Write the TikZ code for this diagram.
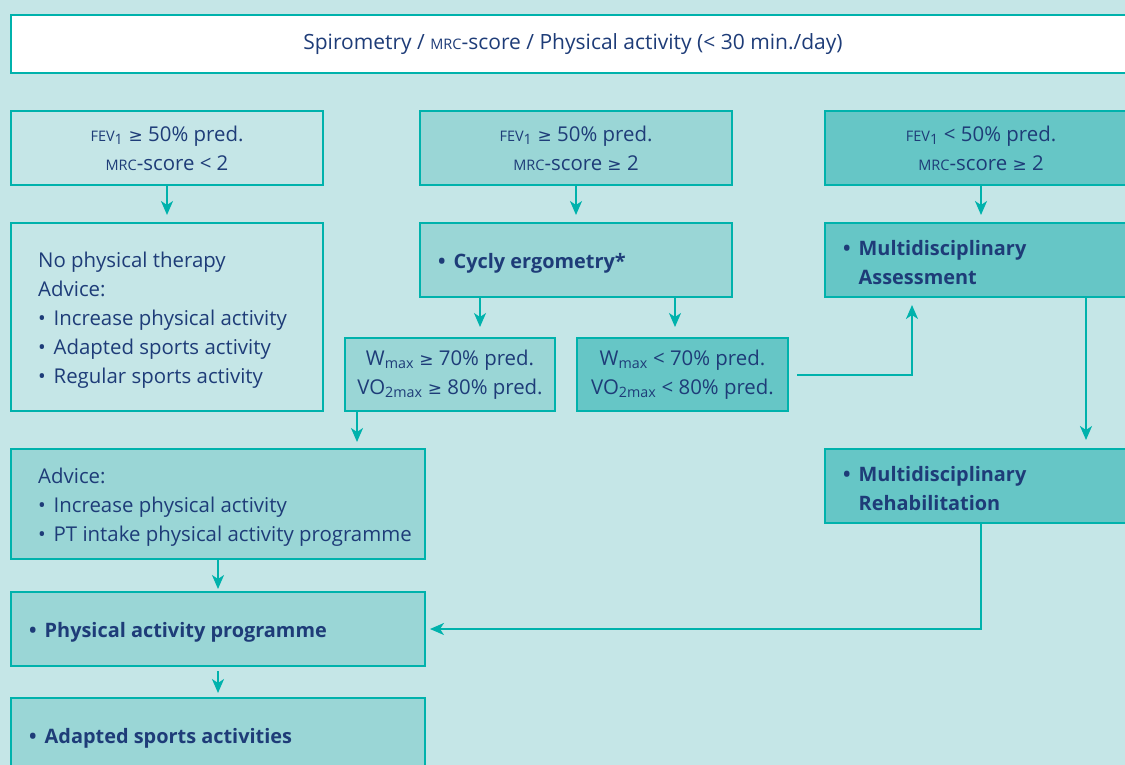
\documentclass[tikz,border=0pt]{standalone}
\usepackage{fontspec}
\setmainfont{Open Sans}
\newfontfamily\symfont{DejaVu Sans}
\usetikzlibrary{arrows.meta, positioning}

\definecolor{bgcol}{HTML}{C5E6E7}
\definecolor{midcol}{HTML}{9AD6D6}
\definecolor{darkcol}{HTML}{66C6C6}
\definecolor{lncol}{HTML}{00B2AC}
\definecolor{txtcol}{HTML}{1E3C78}

\newcommand{\txtfont}{\fontsize{20.4}{29}\selectfont}
\newcommand{\headfont}{\fontsize{21}{29}\selectfont}
\newcommand{\boldfont}{\fontsize{19.9}{29}\selectfont\bfseries}
\newcommand{\smcap}[1]{{\fontsize{14.5}{14.5}\selectfont #1}}
\newcommand{\gte}{{\symfont\fontsize{17}{17}\selectfont ≥}}
\newcommand{\itm}{\makebox[15.5pt][l]{\textbullet}}

\begin{document}
\begin{tikzpicture}[x=1pt, y=-1pt,
    % boxes, filled light to dark
    box/.style={rectangle, draw=lncol, line width=2pt, inner sep=0pt,
        text=txtcol, font=\txtfont, align=center, minimum height=74pt},
    palebox/.style={box, fill=bgcol},
    midbox/.style={box, fill=midcol},
    darkbox/.style={box, fill=darkcol},
    % text set flush left inside a box
    lbl/.style={anchor=west, inner sep=0pt, yshift=-3pt, text=txtcol, font=\txtfont, align=left},
    boldlbl/.style={lbl, font=\boldfont},
    % connectors
    flow/.style={-{Stealth[length=14pt, width=12pt, inset=4pt]}, line width=2pt,
        draw=lncol, shorten >=7pt}
]
    \useasboundingbox (0,0) rectangle (1125,765);
    \clip (0,0) rectangle (1125,765);
    \fill[bgcol] (0,0) rectangle (1125,765);

    % Header
    \node[box, fill=white, anchor=north west, minimum width=1124pt, minimum height=58pt, font=\headfont] (head) at (10,14)
        {Spirometry / \smcap{MRC}-score / Physical activity (< 30 min./day)};

    % First row - patient groups
    \node[palebox, anchor=north west, minimum width=312pt] (l1) at (10,110)
        {\smcap{FEV}\textsubscript{1} \gte{} 50\% pred.\\ \smcap{MRC}-score < 2};
    \node[midbox, anchor=north west, minimum width=312pt] (m1) at (419,110)
        {\smcap{FEV}\textsubscript{1} \gte{} 50\% pred.\\ \smcap{MRC}-score \gte{} 2};
    \node[darkbox, anchor=north west, minimum width=312pt] (r1) at (824,110)
        {\smcap{FEV}\textsubscript{1} < 50\% pred.\\ \smcap{MRC}-score \gte{} 2};

    % Second row - relative to the first
    \node[palebox, below=36pt of l1, minimum width=312pt, minimum height=188pt] (l2) {};
    \node[lbl] (l2txt) at ([xshift=28pt]l2.west)
        {No physical therapy\\Advice:\\\itm Increase physical activity\\\itm Adapted sports activity\\\itm Regular sports activity};
    \node[midbox, below=36pt of m1, minimum width=312pt] (m2) {};
    \node[boldlbl] (m2txt) at ([xshift=19pt]m2.west) {\itm Cycly ergometry*};
    \node[darkbox, below=36pt of r1, minimum width=312pt] (r2) {};
    \node[boldlbl] (r2txt) at ([xshift=19pt]r2.west)
        {\itm Multidisciplinary\\\phantom{\itm}Assessment};

    % Ergometry outcomes
    \node[midbox, anchor=north west, minimum width=210pt, minimum height=73pt] (m3a) at (344,337)
        {W\textsubscript{max} \gte{} 70\% pred.\\VO\textsubscript{2max} \gte{} 80\% pred.};
    \node[darkbox, anchor=north west, minimum width=211pt, minimum height=73pt] (m3b) at (576,337)
        {W\textsubscript{max} < 70\% pred.\\VO\textsubscript{2max} < 80\% pred.};

    % Lower left column
    \node[midbox, anchor=north west, minimum width=414pt, minimum height=110pt] (l3) at (10,448) {};
    \node[lbl] (l3txt) at ([xshift=28pt]l3.west)
        {Advice:\\\itm Increase physical activity\\\itm PT intake physical activity programme};
    \node[midbox, below=31pt of l3, minimum width=414pt] (l4) {};
    \node[boldlbl] (l4txt) at ([xshift=19pt]l4.west) {\itm Physical activity programme};
    \node[midbox, below=30pt of l4, minimum width=414pt] (l5) {};
    \node[boldlbl] (l5txt) at ([xshift=19pt]l5.west) {\itm Adapted sports activities};

    % Rehabilitation
    \node[darkbox, below=150pt of r2, minimum width=312pt] (r3) {};
    \node[boldlbl] (r3txt) at ([xshift=19pt]r3.west)
        {\itm Multidisciplinary\\\phantom{\itm}Rehabilitation};

    % Branch points on box edges
    \coordinate (m2a) at ([xshift=61pt]m2.south west);
    \coordinate (m2b) at ([xshift=256pt]m2.south west);
    \coordinate (m3out) at ([xshift=13pt]m3a.south west);
    \coordinate (r2in) at ([xshift=88pt]r2.south west);
    \coordinate (r2out) at ([xshift=262pt]r2.south west);

    % Connectors
    \draw[flow] (l1) -- (l2);
    \draw[flow] (m1) -- (m2);
    \draw[flow] (r1) -- (r2);
    \draw[flow, shorten >=10pt] (m2a) -- (m2a |- m3a.north);
    \draw[flow, shorten >=10pt] (m2b) -- (m2b |- m3b.north);
    \draw[flow, shorten >=6pt] (m3out) -- (m3out |- l3.north);
    \draw[flow, shorten <=8pt] (m3b.east) -| (r2in);
    \draw[flow, shorten >=8pt] (r2out) -- (r2out |- r3.north);
    \draw[flow, shorten >=4pt] (r3.south) |- (l4.east);
    \draw[flow, shorten >=2pt] (l3) -- (l4);
    \draw[flow, shorten <=4pt, shorten >=4pt] (l4) -- (l5);
\end{tikzpicture}
\end{document}
